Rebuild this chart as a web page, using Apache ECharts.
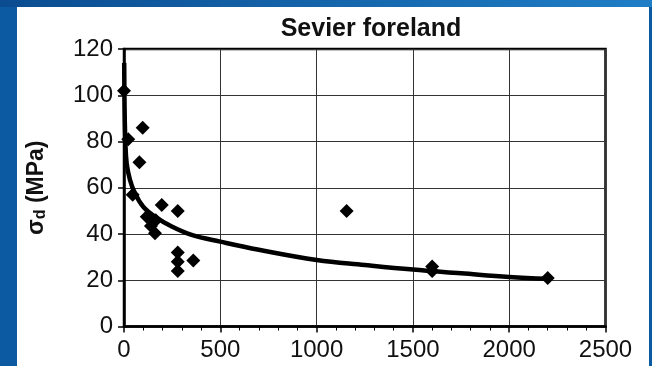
<!DOCTYPE html>
<html>
<head>
<meta charset="utf-8">
<script src="https://cdn.jsdelivr.net/npm/echarts@6/dist/echarts.min.js"></script>
<style>
  html, body { margin: 0; padding: 0; width: 652px; height: 366px; overflow: hidden; }
  body { background: #0b5aa2; position: relative; }
  #topband { position: absolute; left: 0; top: 0; width: 652px; height: 7px;
    background: linear-gradient(to right, #0b4c90, #1f7ec6); }
  #panel { position: absolute; left: 17px; top: 7px; width: 632px; height: 359px; background: #fff; }
  #chart { position: absolute; left: 0; top: 0; width: 652px; height: 366px; }
</style>
</head>
<body>
<div id="topband"></div>
<div id="panel"></div>
<div id="chart"></div>
<script>
// Sevier foreland: differential stress (MPa) against distance
const samples = [
  [0, 102], [22, 81], [97, 86], [80, 71], [45, 57],
  [118, 47.5], [196, 52.5], [165, 46], [161, 40.3], [140, 43.5],
  [279, 50], [279, 32], [279, 28], [279, 24], [360, 28.5],
  [1156, 50], [1600, 26], [1600, 24], [2200, 21]
];
// trend curve traced point by point
const trendX = [1, 3, 7, 14, 31, 57, 100, 161, 248, 351, 500, 700, 1000, 1250, 1500, 1750, 2000, 2200];
const trendY = [114, 95, 80, 70.5, 63.4, 57.6, 51.8, 47.5, 43.2, 39.6, 36.7, 33.2, 28.8, 26.6, 24.6, 23, 21.4, 20.6];
const xTicks = [0, 500, 1000, 1500, 2000, 2500];
const yTicks = [0, 20, 40, 60, 80, 100, 120];

const chart = echarts.init(document.getElementById('chart'), null, { renderer: 'canvas' });
const font = 'Liberation Sans, Arial, Helvetica, sans-serif';
chart.setOption({
  animation: false,
  backgroundColor: 'transparent',
  title: {
    text: 'Sevier foreland',
    left: 366, top: 12, textAlign: 'center',
    textStyle: { fontFamily: font, fontSize: 25, fontWeight: 'bold', color: '#111' }
  },
  grid: {
    left: 124, right: 46.5, top: 49, bottom: 39.5,
    show: true, borderColor: '#000', borderWidth: 2.5, backgroundColor: 'transparent'
  },
  xAxis: {
    type: 'value', min: xTicks[0], max: xTicks[xTicks.length - 1], interval: 500,
    axisLine: { show: true, onZero: false, lineStyle: { color: '#000', width: 2.5 } },
    axisTick: { show: true, length: 6, lineStyle: { color: '#000', width: 1.5 } },
    minorTick: { show: true, splitNumber: 5, length: 4, lineStyle: { color: '#000', width: 1 } },
    splitLine: { show: true, lineStyle: { color: '#333', width: 1 } },
    axisLabel: { fontFamily: font, fontSize: 24, color: '#111', margin: 12,
      formatter: v => String(v) }
  },
  yAxis: {
    type: 'value', min: yTicks[0], max: yTicks[yTicks.length - 1], interval: 20,
    name: '{s|σ}{d|d}{s| (MPa)}', nameLocation: 'middle', nameGap: 75, nameRotate: 90,
    nameTextStyle: {
      rich: {
        s: { fontFamily: font, fontSize: 23, fontWeight: 'bold', color: '#111' },
        d: { fontFamily: font, fontSize: 16, fontWeight: 'bold', color: '#111', padding: [9, 0, 0, 0] }
      }
    },
    axisLine: { show: true, onZero: false, lineStyle: { color: '#000', width: 2.5 } },
    axisTick: { show: true, length: 6, lineStyle: { color: '#000', width: 1.5 } },
    splitLine: { show: true, lineStyle: { color: '#333', width: 1 } },
    axisLabel: { fontFamily: font, fontSize: 24, color: '#111', margin: 11,
      formatter: v => String(v) }
  },
  series: [
    {
      type: 'line',
      data: trendX.map((x, i) => [x, trendY[i]]),
      smooth: 0.4,
      showSymbol: false,
      lineStyle: { color: '#000', width: 4.5 },
      z: 2
    },
    {
      type: 'scatter',
      data: samples,
      symbol: 'diamond',
      symbolSize: 14,
      itemStyle: { color: '#000', opacity: 1 },
      z: 3
    }
  ]
});
</script>
</body>
</html>
